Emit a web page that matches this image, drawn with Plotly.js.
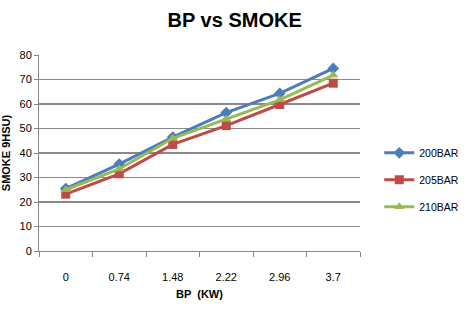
<!DOCTYPE html>
<html><head><meta charset="utf-8">
<script src="https://cdn.plot.ly/plotly-3.0.1.min.js"></script>
<style>html,body{margin:0;padding:0;background:#fff}#c{width:476px;height:310px}</style>
</head><body><div id="c"></div>
<script>
const categories = ['0','0.74','1.48','2.22','2.96','3.7'];
const seriesNames = ['200BAR','205BAR','210BAR'];
const bar200 = [25.5, 35.5, 46.5, 56.5, 64.3, 74.5];
const bar205 = [23.2, 31.5, 43.5, 51.2, 59.8, 68.5];
const bar210 = [25, 33.5, 46, 53.8, 61.7, 71.8];
const colors = ['#4a7ebb','#be4b48','#98b954'];
const symbols = ['diamond','square','triangle-up'];
const values = [bar200, bar205, bar210];
const font = 'Liberation Sans Narrow, Arial Narrow, sans-serif';
const traces = values.map((v,i)=>({
  x: categories, y: v, name: seriesNames[i], type:'scatter', mode:'lines+markers',
  legendgroup: 'g'+i,
  line:{color:colors[i], width:3},
  marker:{symbol:symbols[i], size:9, color:colors[i]}
}));
Plotly.newPlot('c', traces, {
  width:476, height:310,
  margin:{l:39, r:85, t:55, b:59},
  paper_bgcolor:'#fff', plot_bgcolor:'#fff',
  font:{family:font, size:11, color:'#000'},
  title:{text:'<b>BP vs SMOKE</b>', font:{family:font, size:20, color:'#000'}, x:0.493, xanchor:'center', y:0.935, yanchor:'middle'},
  xaxis:{type:'category', range:[-0.5,5.5], tickson:'boundaries', ticks:'outside', ticklen:5, tickcolor:'#868686',
    showline:true, linecolor:'#868686', showgrid:false, zeroline:false,
    ticklabelstandoff:16,
    tickfont:{family:font, size:11},
    title:{text:'<b>BP  (KW)</b>', font:{family:font, size:11}, standoff:8}},
  yaxis:{range:[0,80], dtick:10, ticks:'outside', ticklen:4, tickcolor:'#868686',
    showline:true, linecolor:'#868686', gridcolor:'#8a8a8a', gridwidth:1.5, zeroline:false,
    tickfont:{family:font, size:11},
    title:{text:'<b>SMOKE 9HSU)</b>', font:{family:font, size:11}, standoff:12}},
  showlegend:true,
  legend:{x:1.06, xanchor:'left', y:0.575, yanchor:'top', tracegroupgap:8, traceorder:'grouped',
    font:{family:font, size:10.5}, itemwidth:30, borderwidth:0, bgcolor:'rgba(0,0,0,0)'}
}, {displayModeBar:false, staticPlot:true});
</script></body></html>
